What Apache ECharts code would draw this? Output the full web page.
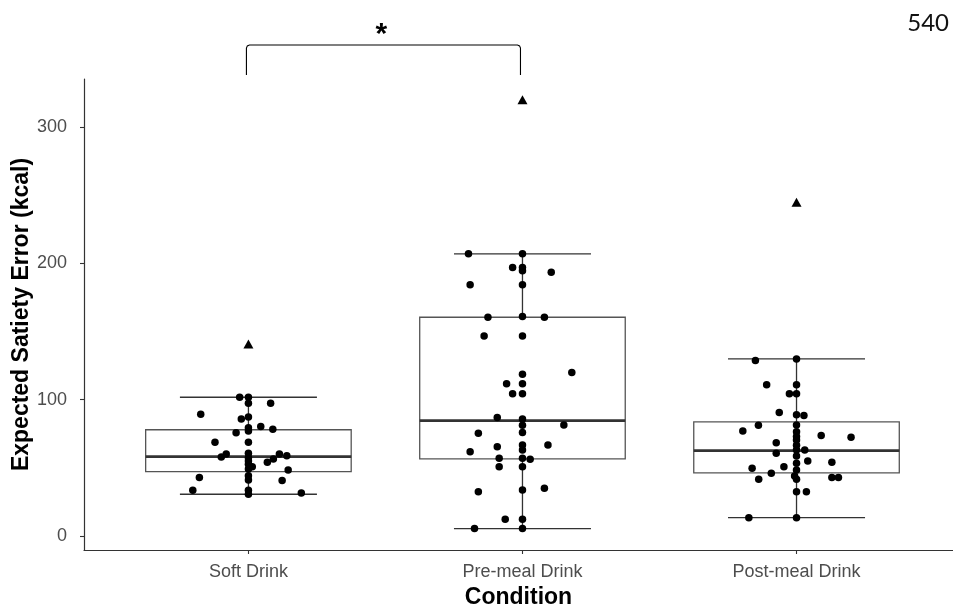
<!DOCTYPE html>
<html>
<head>
<meta charset="utf-8">
<script src="https://cdn.jsdelivr.net/npm/echarts@6/dist/echarts.min.js"></script>
<style>
html,body{margin:0;padding:0;background:#fff;}
#chart{width:953px;height:606px;}
</style>
</head>
<body>
<div id="chart"></div>
<script>
// ---- data ----
const categories = ['Soft Drink', 'Pre-meal Drink', 'Post-meal Drink'];
const yTicks = [0, 100, 200, 300];
const whiskerLow = [30.6, 5.4, 13.4];
const q1 = [47.2, 56.5, 46.2];
const median = [58.2, 84.6, 62.6];
const q3 = [77.9, 160.4, 83.7];
const whiskerHigh = [101.7, 206.9, 129.8];
const outliers = [140.8, 319.8, 244.8];

const softJitter = [-0.032,0,0,0.081,-0.174,-0.026,0,0.045,0,0.089,0,-0.045,-0.122,0,-0.081,-0.099,0,0,0,0.113,0.14,0.091,0.069,0,0.014,0,0.145,-0.179,0,0,0.123,-0.203,0,0,0.193];
const softValues = [101.7,101.7,97.3,97.3,89.3,85.8,87.3,80.2,79.4,78.3,77.0,75.6,68.7,68.7,60.1,57.9,60.7,57.4,55.0,60.1,58.9,56.5,54.1,52.6,50.8,49.1,48.4,42.8,44.2,41.1,40.6,33.5,33.5,30.6,31.5];

const preJitter = [-0.197,0,-0.036,0,0,0.105,-0.191,0,-0.126,0,0.080,-0.140,0,0,0.180,-0.058,0,-0.036,0,-0.092,0,0,0.151,0,-0.161,-0.191,-0.092,0,0,0.093,-0.085,0,0.028,-0.085,0,-0.161,0,0.080,-0.063,0,-0.175,0];
const preValues = [206.9,206.9,196.8,196.8,194.4,193.4,184.3,184.3,160.4,160.9,160.4,146.7,146.7,118.6,119.8,111.7,111.7,104.2,104.2,86.8,85.8,81.2,81.4,75.8,75.3,61.8,65.5,66.7,63.1,66.7,57.0,57.0,56.3,50.8,50.8,32.5,33.7,35.0,12.2,12.2,5.4,5.4];

const postJitter = [-0.150,0,-0.109,0,-0.026,0,-0.063,0,0.027,-0.139,-0.196,0,0,0,0.090,0.199,-0.074,-0.074,0,0.030,0,0.041,0.129,0,-0.046,-0.162,-0.092,0,-0.007,-0.138,0.129,0.153,0,0,0.036,-0.174,0,0,0];
const postValues = [128.6,129.8,110.8,110.8,104.2,104.2,90.5,88.8,88.3,81.2,77.0,81.4,76.5,70.4,73.6,72.4,68.4,60.7,63.1,63.1,58.7,55.0,54.1,53.3,50.8,49.7,46.0,48.4,44.0,41.6,42.8,42.8,41.6,32.5,32.5,13.4,13.4,66.5,73.0];

// ---- build ----
const FONT = '"Liberation Sans", Arial, sans-serif';
const BOX_HALF = 0.375;
const CAP_HALF = 0.25;

const statData = categories.map((c, i) => [i + 1, whiskerLow[i], q1[i], median[i], q3[i], whiskerHigh[i]]);
const outlierData = outliers.map((v, i) => [i + 1, v]);
const groups = [[softJitter, softValues], [preJitter, preValues], [postJitter, postValues]];
const pointData = [];
groups.forEach((g, i) => g[1].forEach((v, k) => pointData.push([i + 1 + g[0][k], v])));

const chart = echarts.init(document.getElementById('chart'), null, {renderer: 'canvas'});

chart.setOption({
  animation: false,
  backgroundColor: '#fff',
  grid: {left: 84, right: 0, top: 79, bottom: 56, containLabel: false, outerBoundsMode: 'none'},
  xAxis: {
    type: 'value', min: 0.4, max: 3.571,
    name: 'Condition', nameLocation: 'middle', nameGap: 36, nameMoveOverlap: false,
    nameTextStyle: {fontFamily: FONT, fontWeight: 'bold', fontSize: 23, color: '#000'},
    axisLine: {show: true, onZero: false, lineStyle: {color: '#333', width: 1.2}},
    axisTick: {show: true, customValues: [1, 2, 3], length: 4, lineStyle: {color: '#333', width: 1.1}},
    axisLabel: {customValues: [1, 2, 3], formatter: v => categories[Math.round(v) - 1] || '', margin: 13,
      fontFamily: FONT, fontSize: 18, color: '#4d4d4d'},
    splitLine: {show: false}
  },
  yAxis: {
    type: 'value', min: -10.3, max: 335.1,
    name: 'Expected Satiety Error (kcal)', nameLocation: 'middle', nameGap: 51, nameMoveOverlap: false,
    nameTextStyle: {fontFamily: FONT, fontWeight: 'bold', fontSize: 23, color: '#000'},
    axisLine: {show: true, onZero: false, lineStyle: {color: '#333', width: 1.2}},
    axisTick: {show: true, customValues: yTicks, length: 4, lineStyle: {color: '#333', width: 1.1}},
    axisLabel: {customValues: yTicks, margin: 17, fontFamily: FONT, fontSize: 18, color: '#4d4d4d'},
    splitLine: {show: false}
  },
  series: [
    {
      type: 'custom', name: 'whiskers', z: 1,
      data: statData,
      renderItem: function (params, api) {
        const x = api.value(0);
        const lo = api.coord([x, api.value(1)]);
        const hi = api.coord([x, api.value(5)]);
        const l1 = api.coord([x - CAP_HALF, api.value(1)]);
        const l2 = api.coord([x + CAP_HALF, api.value(1)]);
        const h1 = api.coord([x - CAP_HALF, api.value(5)]);
        const h2 = api.coord([x + CAP_HALF, api.value(5)]);
        const st = {stroke: '#333', lineWidth: 1.3};
        return {type: 'group', children: [
          {type: 'line', shape: {x1: lo[0], y1: lo[1], x2: hi[0], y2: hi[1]}, style: st},
          {type: 'line', shape: {x1: l1[0], y1: l1[1], x2: l2[0], y2: l2[1]}, style: st},
          {type: 'line', shape: {x1: h1[0], y1: h1[1], x2: h2[0], y2: h2[1]}, style: st}
        ]};
      }
    },
    {
      type: 'custom', name: 'boxes', z: 2,
      data: statData,
      renderItem: function (params, api) {
        const x = api.value(0);
        const tl = api.coord([x - BOX_HALF, api.value(4)]);
        const br = api.coord([x + BOX_HALF, api.value(2)]);
        const m1 = api.coord([x - BOX_HALF, api.value(3)]);
        const m2 = api.coord([x + BOX_HALF, api.value(3)]);
        return {type: 'group', children: [
          {type: 'rect', shape: {x: tl[0], y: tl[1], width: br[0] - tl[0], height: br[1] - tl[1]},
            style: {fill: '#fff', stroke: '#555', lineWidth: 1.3}},
          {type: 'line', shape: {x1: m1[0], y1: m1[1], x2: m2[0], y2: m2[1]},
            style: {stroke: '#333', lineWidth: 2.6}}
        ]};
      }
    },
    {
      type: 'scatter', name: 'outliers', z: 3,
      data: outlierData, symbol: 'triangle', symbolSize: [10, 9],
      itemStyle: {color: '#000', opacity: 1}
    },
    {
      type: 'scatter', name: 'points', z: 4,
      data: pointData, symbol: 'circle', symbolSize: 7.5,
      itemStyle: {color: '#000', opacity: 1}
    }
  ]
});

// significance bracket between category 1 and 2
const xa = chart.convertToPixel({xAxisIndex: 0}, 1) - 2;
const xb = chart.convertToPixel({xAxisIndex: 0}, 2) - 2;
const yTop = 45, yBot = 75, r = 3;
chart.setOption({
  graphic: [
    {type: 'polyline', shape: {points: [
      [xa, yBot], [xa, yTop + r], [xa + 0.9, yTop + 0.9], [xa + r, yTop],
      [xb - r, yTop], [xb - 0.9, yTop + 0.9], [xb, yTop + r], [xb, yBot]]},
      style: {fill: null, stroke: '#000', lineWidth: 1.1}},
    {type: 'text', x: (xa + xb) / 2 - 2, y: 35, style: {text: '*', fontFamily: FONT, fontWeight: 'bold', fontSize: 30,
      fill: '#000', textAlign: 'center', textVerticalAlign: 'middle'}},
    {type: 'text', right: 4, top: 11, style: {text: '540', fontFamily: 'Lato, "Open Sans", sans-serif', fontSize: 24, fill: '#111'}}
  ]
});
</script>
</body>
</html>
